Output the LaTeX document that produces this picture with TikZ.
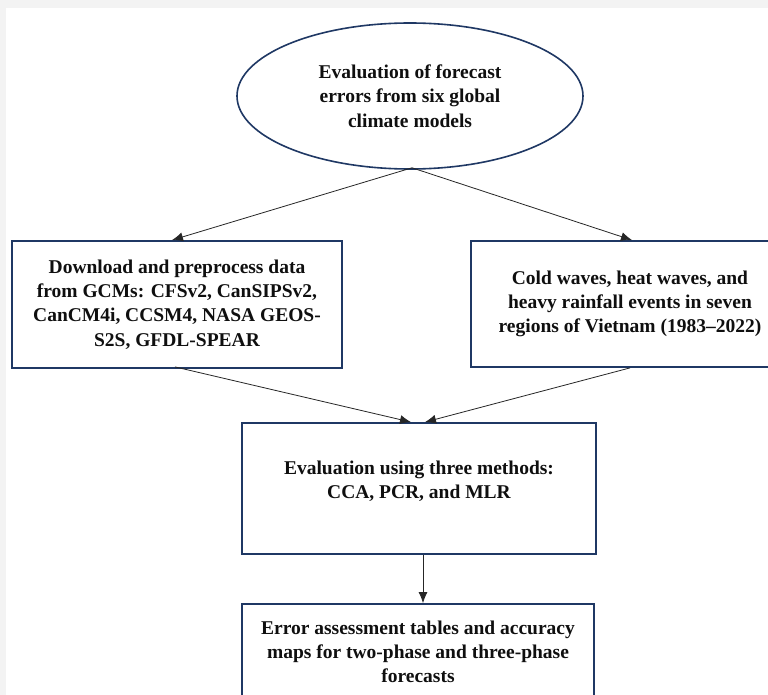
\documentclass[tikz,border=0pt]{standalone}
\usepackage{fontspec}
\setmainfont{Liberation Serif}
\usetikzlibrary{shapes.geometric,arrows.meta,calc}
\definecolor{navy}{RGB}{31,56,100}
\definecolor{strip}{RGB}{243,243,243}
\definecolor{ink}{RGB}{15,15,15}
\begin{document}
\begin{tikzpicture}[x=1pt,y=-1pt,
  boxshape/.style={draw=navy,line width=1.8pt,rectangle,inner sep=0pt,fill=white},
  txt/.style={align=center,text=ink,font=\bfseries\fontsize{19.5}{24.3}\selectfont,inner sep=0pt},
  conn/.style={draw=black!85,line width=0.8pt,-{Latex[length=11pt,width=9pt]}}]
\clip (0,0) rectangle (768,695);
\fill[white] (0,0) rectangle (768,695);
\fill[strip] (0,0) rectangle (768,8);
\fill[strip] (0,0) rectangle (6,695);
% ellipse
\node[ellipse,draw=navy,line width=1.6pt,minimum width=346pt,minimum height=146pt,inner sep=0pt,txt] (goal) at (410,96)
  {Evaluation of forecast\\errors from six global\\climate models};
% left box
\node[boxshape,txt,minimum width=330pt,minimum height=127pt] (dl) at (177,304.5)
  {Download and preprocess data\\from GCMs: CFSv2, CanSIPSv2,\\CanCM4i, CCSM4, NASA GEOS-\\S2S, GFDL-SPEAR};
% right box
\node[boxshape,txt,minimum width=318pt,minimum height=126pt] (cw) at (630,304)
  {Cold waves, heat waves, and\\heavy rainfall events in seven\\regions of Vietnam (1983--2022)};
% evaluation box
\node[boxshape,minimum width=354pt,minimum height=131pt] (ev) at (419,488.5) {};
\node[txt] (evtext) at (419,481) {Evaluation using three methods:\\CCA, PCR, and MLR};
% bottom box
\node[boxshape,txt,minimum width=352pt,minimum height=96pt] (out) at (418,652)
  {Error assessment tables and accuracy\\maps for two-phase and three-phase\\forecasts};
% connectors
\draw[conn] ([xshift=2pt,yshift=2pt]goal.south) -- ([xshift=-5pt]dl.north);
\draw[conn] ([xshift=2pt,yshift=2pt]goal.south) -- ([xshift=2pt]cw.north);
\draw[conn] ([xshift=-2pt,yshift=2pt]dl.south) -- ([xshift=-8pt]ev.north);
\draw[conn] ([yshift=0pt]cw.south) -- ([xshift=6pt]ev.north);
\draw[conn] ([xshift=4pt]ev.south) -- ([xshift=5pt]out.north);
\end{tikzpicture}
\end{document}
